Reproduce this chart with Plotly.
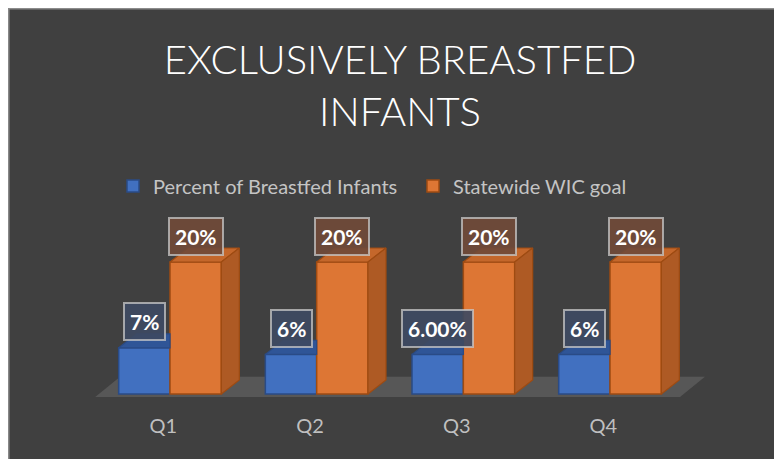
import plotly.graph_objects as go

# ---- data ----
categories = ["Q1", "Q2", "Q3", "Q4"]
pct_breastfed = [0.07, 0.06, 0.06, 0.06]
pct_labels = ["7%", "6%", "6.00%", "6%"]
wic_goal = [0.20, 0.20, 0.20, 0.20]
goal_labels = ["20%", "20%", "20%", "20%"]
series_names = ["Percent of Breastfed Infants", "Statewide WIC goal"]

# ---- styling / geometry constants ----
W, H = 782, 459
BG = "#404040"
BLUE, BLUE_TOP, BLUE_EDGE = "#4170C0", "#2F5597", "#2A4B86"
ORANGE, ORANGE_TOP, ORANGE_SIDE, ORANGE_EDGE = "#DD7634", "#C4672B", "#AE5A24", "#9E4B12"
BW = 0.35          # bar width in category units
DX, DY = 0.1227, 0.0212   # bar depth offsets (data units)
FDX, FDY = 0.17, 0.0305   # floor depth

x = list(range(len(categories)))

fig = go.Figure()

# front faces
fig.add_trace(go.Bar(x=x, y=pct_breastfed, width=BW, offset=-BW, name=series_names[0],
                     marker=dict(color=BLUE, line=dict(color=BLUE_EDGE, width=1.5))))
fig.add_trace(go.Bar(x=x, y=wic_goal, width=BW, offset=0, name=series_names[1],
                     marker=dict(color=ORANGE, line=dict(color=ORANGE_EDGE, width=1.5))))

# top faces and side faces derived from data
bt_x, bt_y = [], []
ot_x, ot_y, os_x, os_y = [], [], [], []
for i, (b, o) in enumerate(zip(pct_breastfed, wic_goal)):
    l, r = i - BW, i
    bt_x += [l, r, r, l + DX, l, None]
    bt_y += [b, b, b + DY, b + DY, b, None]
    l2, r2 = i, i + BW
    ot_x += [l2, r2, r2 + DX, l2 + DX, l2, None]
    ot_y += [o, o, o + DY, o + DY, o, None]
    os_x += [r2, r2 + DX, r2 + DX, r2, r2, None]
    os_y += [0, DY, o + DY, o, 0, None]

fig.add_trace(go.Scatter(x=bt_x, y=bt_y, fill="toself", fillcolor=BLUE_TOP, mode="lines",
                         line=dict(color=BLUE_EDGE, width=1.2), showlegend=False, hoverinfo="skip"))
fig.add_trace(go.Scatter(x=ot_x, y=ot_y, fill="toself", fillcolor=ORANGE_TOP, mode="lines",
                         line=dict(color=ORANGE_EDGE, width=1.2), showlegend=False, hoverinfo="skip"))
fig.add_trace(go.Scatter(x=os_x, y=os_y, fill="toself", fillcolor=ORANGE_SIDE, mode="lines",
                         line=dict(color=ORANGE_EDGE, width=1.2), showlegend=False, hoverinfo="skip"))

# data labels
label_font = dict(family="Lato", size=21, color="white", weight="bold")
for i, (b, o) in enumerate(zip(pct_breastfed, wic_goal)):
    fig.add_annotation(x=i - BW / 2, y=b, text=pct_labels[i], showarrow=False, yshift=26,
                       font=label_font,
                       bgcolor="rgba(62,74,98,0.92)", bordercolor="rgba(200,200,200,0.75)",
                       borderwidth=2, borderpad=5)
    fig.add_annotation(x=i + BW / 2, y=o, text=goal_labels[i], showarrow=False, yshift=26,
                       font=label_font,
                       bgcolor="rgba(112,74,56,0.92)", bordercolor="rgba(200,200,200,0.75)",
                       borderwidth=2, borderpad=5)

# floor
n = len(categories)
fx0, fx1 = -0.51, n - 1 + 0.477
fy0 = -0.0045
fig.add_shape(type="path", xref="x", yref="y", layer="below", line=dict(width=0),
              fillcolor="#575757",
              path=f"M {fx0},{fy0} L {fx1},{fy0} L {fx1+FDX},{fy0+FDY} L {fx0+FDX},{fy0+FDY} Z")

# panel border (left/top)
fig.add_shape(type="rect", xref="paper", yref="paper", layer="above",
              x0=0.8 / W, x1=1.05, y0=-0.05, y1=1 - 0.8 / H,
              fillcolor="rgba(0,0,0,0)", line=dict(color="#8C8C8C", width=1.5))

x_px_per_unit = 146.67
y_px_per_unit = 660
cx0 = 162           # pixel of first category centre
plot_bottom_px = 398
zero_px = 386
fig.update_layout(
    width=W, height=H,
    margin=dict(l=0, r=0, t=0, b=0),
    paper_bgcolor=BG, plot_bgcolor="rgba(0,0,0,0)",
    title=dict(text="EXCLUSIVELY BREASTFED<br>INFANTS", x=392 / W, xanchor="center",
               y=1 - 66 / H, yanchor="middle",
               font=dict(family="Lato", size=40, color="white", weight=300)),
    xaxis=dict(range=[-cx0 / x_px_per_unit, (W - cx0) / x_px_per_unit],
               tickvals=[v - 0.045 for v in x], ticktext=categories,
               showgrid=False, zeroline=False, showline=False, ticks="",
               tickfont=dict(family="Lato", size=20, color="#BFBFBF"),
               ticklabelstandoff=6),
    yaxis=dict(domain=[(H - plot_bottom_px) / H, 1],
               range=[-(plot_bottom_px - zero_px) / y_px_per_unit, zero_px / y_px_per_unit],
               visible=False),
    legend=dict(orientation="h", x=405 / W, xanchor="center", y=1 - 178 / H, yanchor="middle",
                bgcolor="rgba(0,0,0,0)", font=dict(family="Lato", size=20, color="#C4C4C4"),
                traceorder="normal", entrywidth=255),
    showlegend=True,
)

fig.write_html("out.html")
